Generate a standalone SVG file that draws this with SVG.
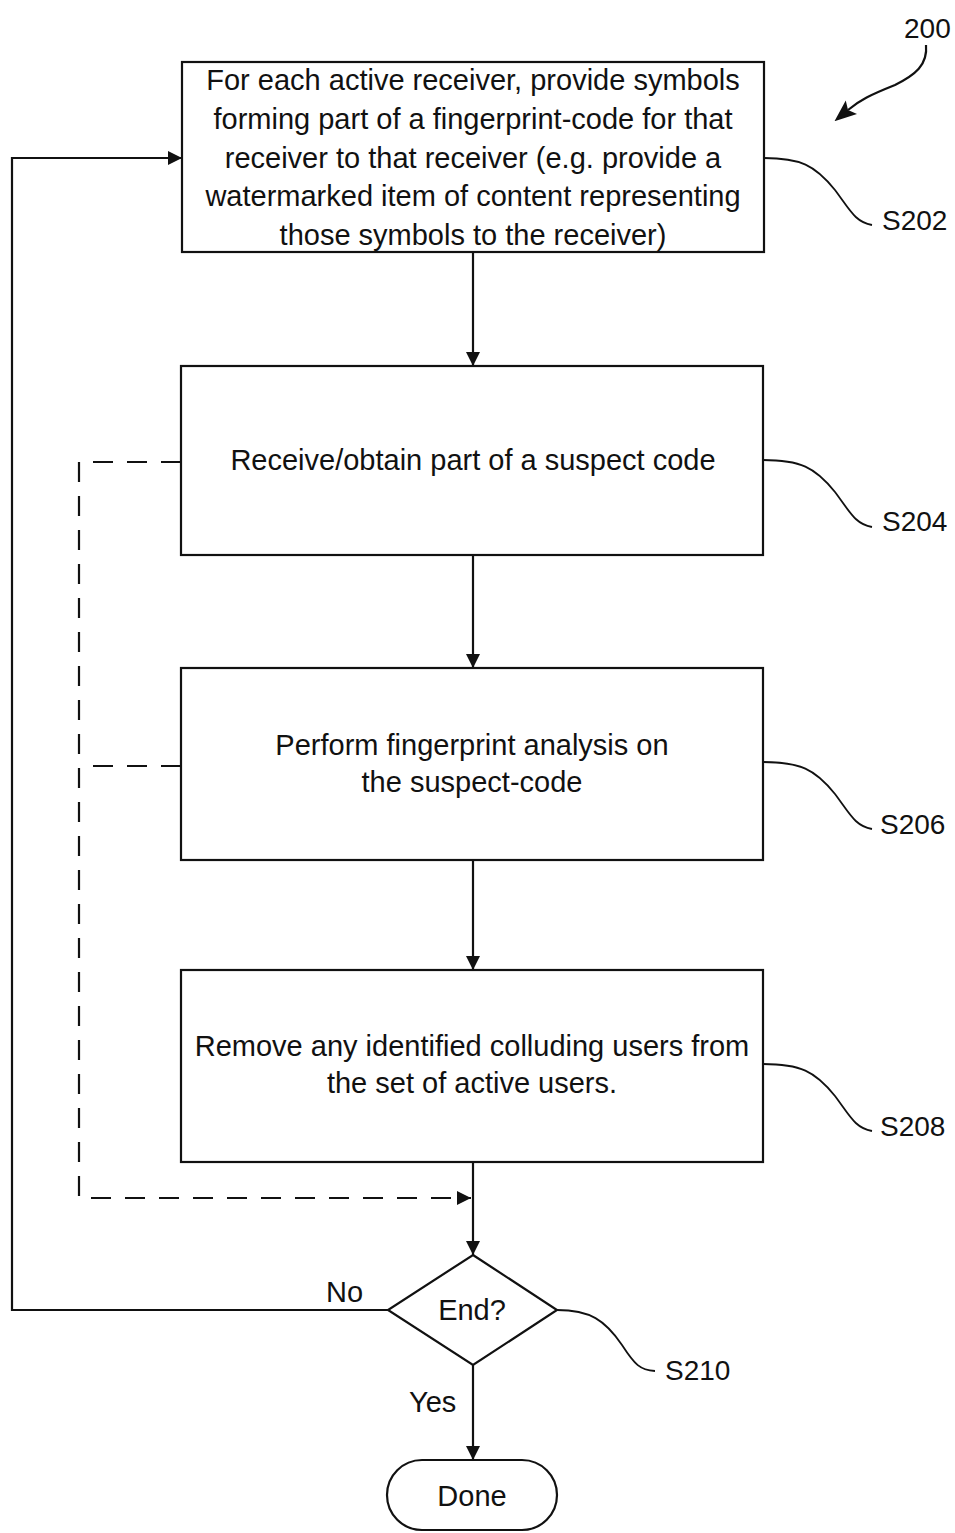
<svg xmlns="http://www.w3.org/2000/svg" width="955" height="1533" viewBox="0 0 955 1533">
<defs>
<marker id="ah" viewBox="0 0 12 12" refX="12" refY="6" markerWidth="14" markerHeight="14" markerUnits="userSpaceOnUse" orient="auto">
<path d="M0,0 L12,6 L0,12 Z" fill="#111"/>
</marker>
<marker id="ahb" viewBox="0 0 20 16" refX="4" refY="8" markerWidth="22" markerHeight="18" markerUnits="userSpaceOnUse" orient="auto">
<path d="M0,0 L20,8 L0,16 L4,8 Z" fill="#111"/>
</marker>
</defs>
<style>
.box{fill:#fff;stroke:#111;stroke-width:2.2}
.t{font-family:"Liberation Sans",Arial,sans-serif;font-size:29px;fill:#111;text-anchor:middle}
.lbl{font-family:"Liberation Sans",Arial,sans-serif;font-size:28px;fill:#111}
.c{fill:none;stroke:#111;stroke-width:2.2}
.d{fill:none;stroke:#111;stroke-width:2.2;stroke-dasharray:20 14}
.lead{fill:none;stroke:#111;stroke-width:1.8}
</style>
<rect width="955" height="1533" fill="#fff"/>
<g id="connectors">
<line class="c" x1="473" y1="252" x2="473" y2="366" marker-end="url(#ah)"/>
<line class="c" x1="473" y1="555" x2="473" y2="668" marker-end="url(#ah)"/>
<line class="c" x1="473" y1="860" x2="473" y2="970" marker-end="url(#ah)"/>
<line class="c" x1="473" y1="1162" x2="473" y2="1255" marker-end="url(#ah)"/>
<line class="c" x1="473" y1="1365" x2="473" y2="1460" marker-end="url(#ah)"/>
<polyline class="c" points="388,1310 12,1310 12,158 182,158" marker-end="url(#ah)"/>
<polyline class="d" points="181,462 79,462 79,1198 471,1198" marker-end="url(#ah)"/>
<line class="d" x1="181" y1="766" x2="92" y2="766"/>
<text class="lbl" x="326" y="1302" style="font-size:29px">No</text>
<text class="lbl" x="409" y="1412" style="font-size:29px">Yes</text>
</g>
<g id="S202">
<rect class="box" x="182" y="62" width="582" height="190"/>
<text class="t" x="473" y="90">For each active receiver, provide symbols</text>
<text class="t" x="473" y="129">forming part of a fingerprint-code for that</text>
<text class="t" x="473" y="168">receiver to that receiver (e.g. provide a</text>
<text class="t" x="473" y="206">watermarked item of content representing</text>
<text class="t" x="473" y="245">those symbols to the receiver)</text>
<path class="lead" d="M764,158 C800,158 815,165 835,190 C850,210 855,222 872,225"/>
<text class="lbl" x="882" y="230">S202</text>
</g>
<g id="S204">
<rect class="box" x="181" y="366" width="582" height="189"/>
<text class="t" x="473" y="470">Receive/obtain part of a suspect code</text>
<path class="lead" d="M763,460 C800,460 815,467 835,492 C850,512 855,524 872,527"/>
<text class="lbl" x="882" y="531">S204</text>
</g>
<g id="S206">
<rect class="box" x="181" y="668" width="582" height="192"/>
<text class="t" x="472" y="755">Perform fingerprint analysis on</text>
<text class="t" x="472" y="792">the suspect-code</text>
<path class="lead" d="M763,762 C800,762 815,769 835,794 C850,814 855,826 872,829"/>
<text class="lbl" x="880" y="834">S206</text>
</g>
<g id="S208">
<rect class="box" x="181" y="970" width="582" height="192"/>
<text class="t" x="472" y="1056">Remove any identified colluding users from</text>
<text class="t" x="472" y="1093">the set of active users.</text>
<path class="lead" d="M763,1064 C800,1064 815,1071 835,1096 C850,1116 855,1128 872,1131"/>
<text class="lbl" x="880" y="1136">S208</text>
</g>
<g id="S210">
<polygon class="box" points="473,1255 557,1310 473,1365 388,1310"/>
<text class="t" x="472" y="1320">End?</text>
<path class="lead" d="M557,1310 C590,1310 605,1320 622,1345 C635,1365 640,1370 655,1371"/>
<text class="lbl" x="665" y="1380">S210</text>
</g>
<g id="done">
<rect class="box" x="387" y="1460" width="170" height="70" rx="35" ry="35"/>
<text class="t" x="472" y="1506">Done</text>
</g>
<g id="ref200">
<text class="lbl" x="904" y="38">200</text>
<path class="c" d="M926,45 C928,65 915,75 895,85 C870,95 860,100 848,110" marker-end="url(#ahb)"/>
</g>
</svg>
